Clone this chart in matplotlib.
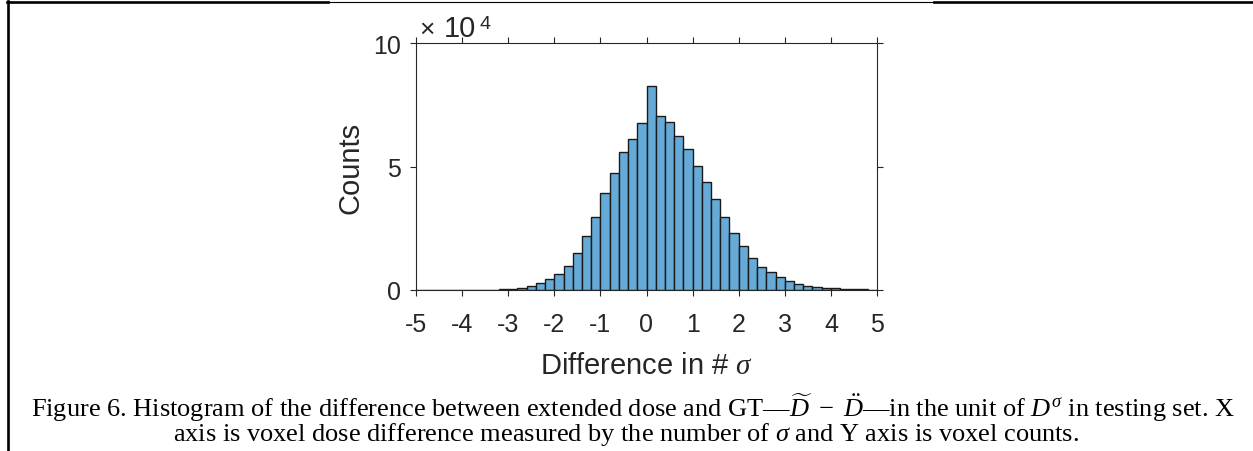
"""
Histogram of voxel dose difference (in units of sigma)
"""

import numpy as np
import matplotlib

matplotlib.use("Agg")
import matplotlib.pyplot as plt
from matplotlib.lines import Line2D

plt.rcParams["mathtext.fontset"] = "custom"
plt.rcParams["mathtext.rm"] = "Liberation Serif"
plt.rcParams["mathtext.it"] = "Liberation Serif:italic"

# bin edges (sigma) and counts per bin (x 1e4)
bin_edges = np.linspace(-5, 5, 51)
counts_1e4 = [
    0.003, 0.003, 0.004, 0.005, 0.006, 0.008, 0.010, 0.013, 0.018, 0.028,
    0.05, 0.09, 0.16, 0.27, 0.43, 0.63, 0.98, 1.51, 2.19, 2.97,
    3.93, 4.74, 5.57, 6.11, 6.76, 8.27, 7.06, 6.79, 6.22, 5.71,
    5.03, 4.36, 3.67, 2.97, 2.31, 1.77, 1.31, 0.94, 0.74, 0.53,
    0.36, 0.24, 0.17, 0.13, 0.09, 0.07, 0.05, 0.035, 0.025, 0.015,
]
x_ticks = [-5, -4, -3, -2, -1, 0, 1, 2, 3, 4, 5]
y_ticks = [0, 5e4, 10e4]

caption_1 = (r"Figure 6. Histogram of the difference between extended dose and "
             r"GT—$\widetilde{D}\ -\ \ddot{D}$—in the unit of $D^{\sigma}$ in testing set. X")
caption_2 = r"axis is voxel dose difference measured by the number of $\sigma$ and Y axis is voxel counts."

W, H = 1253, 452
fig = plt.figure(figsize=(W / 100, H / 100), dpi=100)


def fx(px):
    return px / W


def fy(py):
    return 1 - py / H


ax = fig.add_axes([fx(416), fy(291), fx(877) - fx(416), fy(44) - fy(291)])

counts = np.array(counts_1e4) * 1e4
ax.bar(
    bin_edges[:-1],
    counts,
    width=np.diff(bin_edges),
    align="edge",
    color="#66aad7",
    edgecolor="#1a1a1a",
    linewidth=1.0,
)

axis_col = "#262626"
ax.set_xlim(-5, 5)
ax.set_ylim(0, 10e4)
ax.set_xticks(x_ticks)
ax.set_xticklabels([str(t) for t in x_ticks])
ax.set_yticks(y_ticks)
ax.yaxis.set_major_formatter(plt.FuncFormatter(lambda v, p: f"{v / 1e4:.0f}"))
ax.tick_params(
    direction="out", length=4, width=0.8, colors=axis_col,
    top=True, right=True, labelsize=18, pad=12,
)
ax.tick_params(axis="y", pad=7)
for lab in ax.get_xticklabels() + ax.get_yticklabels():
    lab.set_family("Liberation Sans")
for s in ax.spines.values():
    s.set_color(axis_col)
    s.set_linewidth(0.8)

ax.set_xlabel("Difference in # $\\sigma$", fontsize=21, family="Liberation Sans",
              color=axis_col, labelpad=11)
ax.set_ylabel("Counts", fontsize=21, family="Liberation Sans", color=axis_col, labelpad=6)

# exponent label
fig.text(fx(419), fy(37), "×", fontsize=19, family="Liberation Sans",
         color=axis_col, ha="left", va="baseline")
fig.text(fx(444), fy(37), "10", fontsize=21, family="Liberation Sans",
         color=axis_col, ha="left", va="baseline")
fig.text(fx(479), fy(29), "4", fontsize=14, family="Liberation Sans",
         color=axis_col, ha="left", va="baseline")

# caption
fig.text(0.505, fy(408), caption_1, fontsize=19, family="Liberation Serif",
         ha="center", va="center")
fig.text(0.5, fy(435), caption_2, fontsize=19, family="Liberation Serif",
         ha="center", va="center")

# table borders
fig.add_artist(Line2D([fx(8), fx(8)], [fy(2), 0], color="black", lw=1.9))
fig.add_artist(Line2D([fx(7), fx(328)], [fy(3.3), fy(3.3)], color="black", lw=1.9))
fig.add_artist(Line2D([fx(328), fx(934)], [fy(3), fy(3)], color="black", lw=0.8))
fig.add_artist(Line2D([fx(934), 1], [fy(3.3), fy(3.3)], color="black", lw=1.9))

fig.savefig("out.png", dpi=100)
plt.close(fig)
